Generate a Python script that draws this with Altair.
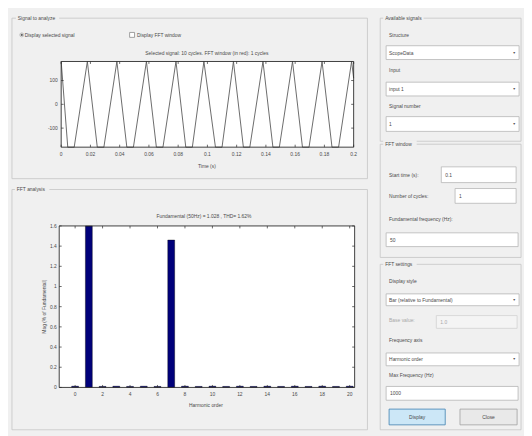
import altair as alt
import pandas as pd

# ---------------- chart values ----------------
# time-domain signal: vertices of the trapezoid-like triangle wave (10 cycles)
wave_time = [0.0, 0.0045, 0.0089, 0.0179,
             0.0247, 0.0292, 0.0381,
             0.0449, 0.0494, 0.0583,
             0.0651, 0.0696, 0.0785,
             0.0852, 0.0897, 0.0976,
             0.1055, 0.1100, 0.1178,
             0.1246, 0.1290, 0.1380,
             0.1448, 0.1492, 0.1582,
             0.1650, 0.1695, 0.1784,
             0.1852, 0.1897, 0.1986,
             0.2]
wave_value = [180, -180, -180, 180,
              -180, -180, 180,
              -180, -180, 180,
              -180, -180, 180,
              -180, -180, 180,
              -180, -180, 180,
              -180, -180, 180,
              -180, -180, 180,
              -180, -180, 180,
              -180, -180, 180,
              110]
time_ticks = [0, 0.02, 0.04, 0.06, 0.08, 0.1, 0.12, 0.14, 0.16, 0.18, 0.2]
time_tick_labels = ["0", "0.02", "0.04", "0.06", "0.08", "0.1", "0.12", "0.14", "0.16", "0.18", "0.2"]
signal_ticks = [-100, 0, 100]
signal_tick_labels = ["-100", "0", "100"]

# FFT spectrum (% of fundamental)
harmonic_order = [0, 1, 2, 3, 4, 5, 6, 7, 8, 9, 10,
                  11, 12, 13, 14, 15, 16, 17, 18, 19, 20]
harmonic_mag = [0.012, 100, 0.01, 0.012, 0.01, 0.012, 0.01, 1.46, 0.012, 0.01, 0.012,
                0.01, 0.012, 0.01, 0.012, 0.01, 0.012, 0.01, 0.012, 0.01, 0.012]
order_ticks = [0, 2, 4, 6, 8, 10, 12, 14, 16, 18, 20]
order_tick_labels = ["0", "2", "4", "6", "8", "10", "12", "14", "16", "18", "20"]
mag_ticks = [0, 0.2, 0.4, 0.6, 0.8, 1, 1.2, 1.4, 1.6]
mag_tick_labels = ["0", "0.2", "0.4", "0.6", "0.8", "1", "1.2", "1.4", "1.6"]

top_title = "Selected signal: 10 cycles. FFT window (in red): 1 cycles"
top_xlabel = "Time (s)"
fft_title = "Fundamental (50Hz) = 1.028 , THD= 1.62%"
fft_xlabel = "Harmonic order"
fft_ylabel = "Mag (% of Fundamental)"

# ---------------- layout ----------------
W, H = 524, 428
FONT = "Liberation Sans"
FS = 5
BG = "#f0f0f0"
TXT = "#4a4a4a"
FRAME = "#2a2a2a"
EDGE = "#c4c4c4"


def p(v):
    return v - 8


one = pd.DataFrame({"k": [0]})


def rect_layer(rows, sw=0.8):
    df = pd.DataFrame(rows, columns=["x0", "y0", "x1", "y1", "fill", "stroke"])
    for c in ["x0", "x1", "y0", "y1"]:
        df[c] = df[c] - 8
    return alt.Chart(df).mark_rect(strokeWidth=sw).encode(
        x=alt.X("x0:Q", scale=None, axis=None), x2="x1:Q",
        y=alt.Y("y0:Q", scale=None, axis=None), y2="y1:Q",
        fill=alt.Fill("fill:N", scale=None, legend=None),
        stroke=alt.Stroke("stroke:N", scale=None, legend=None))


def text_layer(rows, align, size=FS, angle=0):
    df = pd.DataFrame(rows, columns=["x", "y", "text", "color"])
    df["x"] = df["x"] - 8
    df["y"] = df["y"] - 8
    return alt.Chart(df).mark_text(align=align, baseline="middle", font=FONT,
                                   fontSize=size, angle=angle).encode(
        x=alt.X("x:Q", scale=None, axis=None), y=alt.Y("y:Q", scale=None, axis=None),
        text="text:N", color=alt.Color("color:N", scale=None, legend=None))


T = "transparent"
groups = rect_layer([
    (12, 15, 373, 178, T, EDGE),
    (12, 189, 373, 433, T, EDGE),
    (386, 15, 529, 140, T, EDGE),
    (386, 143, 529, 258, T, EDGE),
    (386, 265, 529, 433, T, EDGE),
])
title_bg = rect_layer([
    (16, 11, 60, 19, BG, BG),
    (15, 185, 50, 193, BG, BG),
    (389, 11, 430, 19, BG, BG),
    (389, 139, 423, 147, BG, BG),
    (389, 261, 423, 269, BG, BG),
], sw=0)
widgets = rect_layer([
    (392, 43, 527, 57, "#ffffff", "#b5b5b5"),
    (392, 80, 527, 94, "#ffffff", "#b5b5b5"),
    (392, 115, 527, 130, "#ffffff", "#b5b5b5"),
    (448, 166, 524, 182, "#ffffff", "#b5b5b5"),
    (462, 188, 524, 203, "#ffffff", "#b5b5b5"),
    (392, 233, 526, 247, "#ffffff", "#b5b5b5"),
    (392, 295, 527, 307, "#ffffff", "#b5b5b5"),
    (443, 317, 525, 330, "#f4f4f4", "#d2d2d2"),
    (392, 355, 527, 368, "#ffffff", "#b5b5b5"),
    (392, 389, 526, 403, "#ffffff", "#b5b5b5"),
    (395, 412, 452, 428, "#cce7f7", "#3d7fb0"),
    (467, 412, 525, 428, "#e9e9e9", "#a0a0a0"),
    (131.5, 29.5, 136.5, 34.5, "#ffffff", "#8a8a8a"),
])

labels_left = text_layer([
    (18, 15, "Signal to analyze", TXT),
    (17, 189, "FFT analysis", TXT),
    (391, 15, "Available signals", TXT),
    (391, 143, "FFT window", TXT),
    (391, 265, "FFT settings", TXT),
    (25, 32, "Display selected signal", TXT),
    (139, 32, "Display FFT window", TXT),
    (395, 32, "Structure", TXT),
    (395, 50, "ScopeData", TXT),
    (395, 68, "Input", TXT),
    (395, 87, "input 1", TXT),
    (395, 104, "Signal number", TXT),
    (395, 122.5, "1", TXT),
    (395, 174, "Start time (s):", TXT),
    (452, 174, "0.1", TXT),
    (395, 196, "Number of cycles:", TXT),
    (466, 195.5, "1", TXT),
    (395, 219, "Fundamental frequency (Hz):", TXT),
    (396, 240, "50", TXT),
    (395, 282, "Display style", TXT),
    (395, 301, "Bar (relative to Fundamental)", TXT),
    (395, 322, "Base value:", "#a8a8a8"),
    (447, 323.5, "1.0", "#a8a8a8"),
    (395, 342, "Frequency axis", TXT),
    (395, 361.5, "Harmonic order", TXT),
    (395, 377, "Max Frequency (Hz)", TXT),
    (396, 396, "1000", TXT),
], "left")
labels_center = text_layer([
    (210, 50, top_title, TXT),
    (210, 165, top_xlabel, TXT),
    (207, 216, fft_title, TXT),
    (209, 408, fft_xlabel, TXT),
    (423.5, 420, "Display", TXT),
    (496, 420, "Close", TXT),
], "center")
arrows = text_layer([
    (522, 50, "\u25bc", "#555555"),
    (522, 87, "\u25bc", "#555555"),
    (522, 122.5, "\u25bc", "#555555"),
    (522, 301, "\u25bc", "#555555"),
    (522, 361.5, "\u25bc", "#555555"),
], "center", size=3.5)
ylabel = text_layer([(45, 308, fft_ylabel, TXT)], "center", angle=270)

radio_outer = alt.Chart(one).mark_point(shape="circle", filled=True, fill="#ffffff",
                                        stroke="#7a7a7a", strokeWidth=0.6, size=16).encode(
    x=alt.value(p(22)), y=alt.value(p(32)))
radio_dot = alt.Chart(one).mark_point(shape="circle", filled=True, color="#222222", size=5).encode(
    x=alt.value(p(22)), y=alt.value(p(32)))

TK = 2.5


def tick_marks(vals, labels, scale, channel, base, inner_sign, far, far_sign, label_pos, align):
    """inward ticks on both sides of an axis pair and labels placed via the scale"""
    df = pd.DataFrame({"tick": vals, "label": labels})
    layers = []
    if channel == "x":
        enc = dict(x=alt.X("tick:Q", scale=scale, axis=None))
        layers.append(alt.Chart(df).mark_rule(color=FRAME, strokeWidth=0.7).encode(
            y=alt.value(p(base)), y2=alt.value(p(base) + inner_sign * TK), **enc))
        layers.append(alt.Chart(df).mark_rule(color=FRAME, strokeWidth=0.7).encode(
            y=alt.value(p(far)), y2=alt.value(p(far) + far_sign * TK), **enc))
        layers.append(alt.Chart(df).mark_text(font=FONT, fontSize=FS, color=TXT, align=align,
                                              baseline="middle").encode(
            y=alt.value(p(label_pos)), text="label:N", **enc))
    else:
        enc = dict(y=alt.Y("tick:Q", scale=scale, axis=None))
        layers.append(alt.Chart(df).mark_rule(color=FRAME, strokeWidth=0.7).encode(
            x=alt.value(p(base)), x2=alt.value(p(base) + inner_sign * TK), **enc))
        layers.append(alt.Chart(df).mark_rule(color=FRAME, strokeWidth=0.7).encode(
            x=alt.value(p(far)), x2=alt.value(p(far) + far_sign * TK), **enc))
        layers.append(alt.Chart(df).mark_text(font=FONT, fontSize=FS, color=TXT, align=align,
                                              baseline="middle").encode(
            x=alt.value(p(label_pos)), text="label:N", **enc))
    return layers


# ---------------- top plot: selected signal ----------------
TX0, TX1, TY0, TY1 = 62, 359, 59, 146
xs_t = alt.Scale(domain=[0, 0.2], range=[p(TX0), p(TX1)], nice=False, zero=False)
ys_t = alt.Scale(domain=[-180, 180], range=[p(TY1), p(TY0)], nice=False, zero=False)

wave_df = pd.DataFrame({"t": wave_time, "v": wave_value})

top_bg = alt.Chart(one).mark_rect(fill="#ffffff").encode(
    x=alt.value(p(TX0)), x2=alt.value(p(TX1)), y=alt.value(p(TY0)), y2=alt.value(p(TY1)))
top_line = alt.Chart(wave_df).mark_line(color="#5a5a5a", strokeWidth=0.9).encode(
    x=alt.X("t:Q", scale=xs_t, axis=None),
    y=alt.Y("v:Q", scale=ys_t, axis=None))
top_frame = alt.Chart(one).mark_rect(fill="transparent", stroke=FRAME, strokeWidth=0.9).encode(
    x=alt.value(p(TX0)), x2=alt.value(p(TX1)), y=alt.value(p(TY0)), y2=alt.value(p(TY1)))
top_plot = alt.layer(
    top_bg, top_line,
    *tick_marks(time_ticks, time_tick_labels, xs_t, "x", TY1, -1, TY0, 1, 153, "center"),
    *tick_marks(signal_ticks, signal_tick_labels, ys_t, "y", TX0, 1, TX1, -1, 58.5, "right"),
    top_frame)

# ---------------- bottom plot: FFT bars ----------------
BX0, BX1, BY0, BY1 = 60, 360, 226, 390
xs_b = alt.Scale(domain=[-0.8, 20], range=[p(BX0), p(BX1)], nice=False, zero=False)
ys_b = alt.Scale(domain=[0, 1.6], range=[p(BY1), p(BY0)], nice=False, zero=False, clamp=True)

fft_df = pd.DataFrame({"h": harmonic_order, "m": harmonic_mag})

bot_bg = alt.Chart(one).mark_rect(fill="#ffffff").encode(
    x=alt.value(p(BX0)), x2=alt.value(p(BX1)), y=alt.value(p(BY0)), y2=alt.value(p(BY1)))
bars = alt.Chart(fft_df).mark_bar(size=7, color="#00007a", stroke="#000000",
                                  strokeWidth=0.4, orient="vertical").encode(
    x=alt.X("h:Q", scale=xs_b, axis=None),
    y=alt.Y("m:Q", scale=ys_b, axis=None))
bot_frame = alt.Chart(one).mark_rect(fill="transparent", stroke=FRAME, strokeWidth=0.9).encode(
    x=alt.value(p(BX0)), x2=alt.value(p(BX1)), y=alt.value(p(BY0)), y2=alt.value(p(BY1)))
bottom_plot = alt.layer(
    bot_bg, bars,
    *tick_marks(order_ticks, order_tick_labels, xs_b, "x", BY1, -1, BY0, 1, 397, "center"),
    *tick_marks(mag_ticks, mag_tick_labels, ys_b, "y", BX0, 1, BX1, -1, 57.5, "right"),
    bot_frame)

chart = alt.layer(
    groups, title_bg, widgets, radio_outer, radio_dot,
    labels_left, labels_center, arrows, ylabel,
    top_plot, bottom_plot,
).resolve_scale(x="independent", y="independent").properties(
    width=W, height=H, padding=0, autosize=alt.AutoSizeParams(type="none")
).configure(background=BG).configure_view(stroke=None)

chart.save("out.html", embed_options={"renderer": "svg", "actions": False})
